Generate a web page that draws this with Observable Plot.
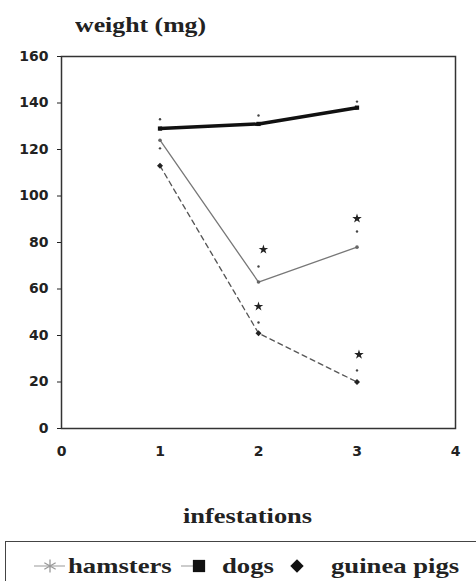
<!DOCTYPE html>
<html><head><meta charset="utf-8">
<script src="https://cdn.jsdelivr.net/npm/d3@7"></script>
<script src="https://cdn.jsdelivr.net/npm/@observablehq/plot@0.6"></script>
<style>
body{margin:0;background:#fff;width:476px;height:581px;overflow:hidden;position:relative;font-family:"Liberation Serif",serif;}
#title{position:absolute;left:75px;top:14px;font:bold 20px "Liberation Serif",serif;color:#222;transform:scaleX(1.29);transform-origin:0 0;white-space:nowrap;}
#chart{position:absolute;left:0;top:45px;}
#xlabel{position:absolute;left:183px;top:505px;font:bold 20px "Liberation Serif",serif;color:#222;transform:scaleX(1.32);transform-origin:0 0;white-space:nowrap;}
#legend{position:absolute;left:5px;top:541px;width:480px;height:50px;border:1.5px solid #444;box-sizing:border-box;}
#legend svg{position:absolute;left:-1.5px;top:-1.5px;}
</style></head><body>
<div id="title">weight (mg)</div>
<div id="chart"></div>
<div id="xlabel">infestations</div>
<div id="legend"></div>
<script>
const infestations = [1, 2, 3];
const hamsters = [124, 63, 78];
const dogs = [129, 131, 138];
const guineaPigs = [113, 41, 20];
// upper error-bar tips (small dots) and significance stars
const tipX = [1, 2, 3, 1, 2, 3, 2, 3];
const tipY = [133, 134.6, 140.6, 120.5, 69.7, 84.7, 45.6, 25];
const starX = [2.05, 3, 2, 3.02];
const starY = [77, 90.3, 52.5, 31.8];
const xTicks = [0, 1, 2, 3, 4];
const yTicks = [0, 20, 40, 60, 80, 100, 120, 140, 160];
const seriesNames = ["hamsters", "dogs", "guinea pigs"];

const rows = (vals, name) => infestations.map((x, i) => ({x, y: vals[i], s: name}));
const H = rows(hamsters, seriesNames[0]), D = rows(dogs, seriesNames[1]), G = rows(guineaPigs, seriesNames[2]);
const tips = tipX.map((x, i) => ({x, y: tipY[i]}));
const stars = starX.map((x, i) => ({x, y: starY[i]}));

const axisFont = {fontSize: 14, fontWeight: "bold", fontFamily: "DejaVu Sans, sans-serif"};
const plot = Plot.plot({
  width: 476, height: 430,
  marginLeft: 61, marginRight: 21, marginTop: 11, marginBottom: 47,
  style: {background: "transparent", color: "#222"},
  x: {domain: [0, 4], label: null},
  y: {domain: [0, 160], label: null},
  marks: [
    Plot.frame({stroke: "#333", strokeWidth: 1.5}),
    Plot.axisX({ticks: xTicks, tickSize: 0, tickPadding: 18, tickFormat: d3.format("d"), label: null, ...axisFont}),
    Plot.axisY({ticks: yTicks, tickSize: 4, tickPadding: 9, tickFormat: d3.format("d"), label: null, ...axisFont}),
    Plot.line(H, {x: "x", y: "y", stroke: "#777", strokeWidth: 1.3}),
    Plot.line(G, {x: "x", y: "y", stroke: "#555", strokeWidth: 1.3, strokeDasharray: "5,4"}),
    Plot.line(D, {x: "x", y: "y", stroke: "#111", strokeWidth: 3.5}),
    Plot.dot(H, {x: "x", y: "y", r: 1.8, fill: "#666"}),
    Plot.dot(G, {x: "x", y: "y", r: 2.4, fill: "#222", symbol: "square", rotate: 45}),
    Plot.dot(D, {x: "x", y: "y", r: 2.4, fill: "#111", symbol: "square"}),
    Plot.dot(tips, {x: "x", y: "y", r: 1.2, fill: "#444"}),
    Plot.dot(stars, {x: "x", y: "y", r: 3, fill: "#222", symbol: "star"})
  ]
});
document.getElementById("chart").append(plot);

// legend
const lg = d3.select("#legend").append("svg").attr("width", 480).attr("height", 50);
const items = [
  {name: seriesNames[0], sym: "star", sx: 45, tx: 63, line: [29, 60]},
  {name: seriesNames[1], sym: "square", sx: 194, tx: 217, line: [176, 194]},
  {name: seriesNames[2], sym: "diamond", sx: 292, tx: 326, line: null}
];
items.forEach(it => {
  if (it.line) lg.append("line").attr("x1", it.line[0]).attr("x2", it.line[1]).attr("y1", 25).attr("y2", 25).attr("stroke", "#999").attr("stroke-width", 1);
  const s = it.sym === "star" ? d3.symbolAsterisk : d3.symbolSquare;
  const size = it.sym === "star" ? 120 : it.sym === "square" ? 150 : 90;
  lg.append("path").attr("d", d3.symbol(s, size)())
    .attr("transform", `translate(${it.sx},25)` + (it.sym === "diamond" ? " rotate(45)" : ""))
    .attr("fill", "#111").attr("stroke", it.sym === "star" ? "#999" : "none").attr("stroke-width", 1.3);
  lg.append("text").attr("transform", `translate(${it.tx},32) scale(1.27,1)`).text(it.name)
    .attr("font-family", "Liberation Serif, serif").attr("font-weight", "bold").attr("font-size", 21).attr("fill", "#222");
});
</script>
</body></html>
